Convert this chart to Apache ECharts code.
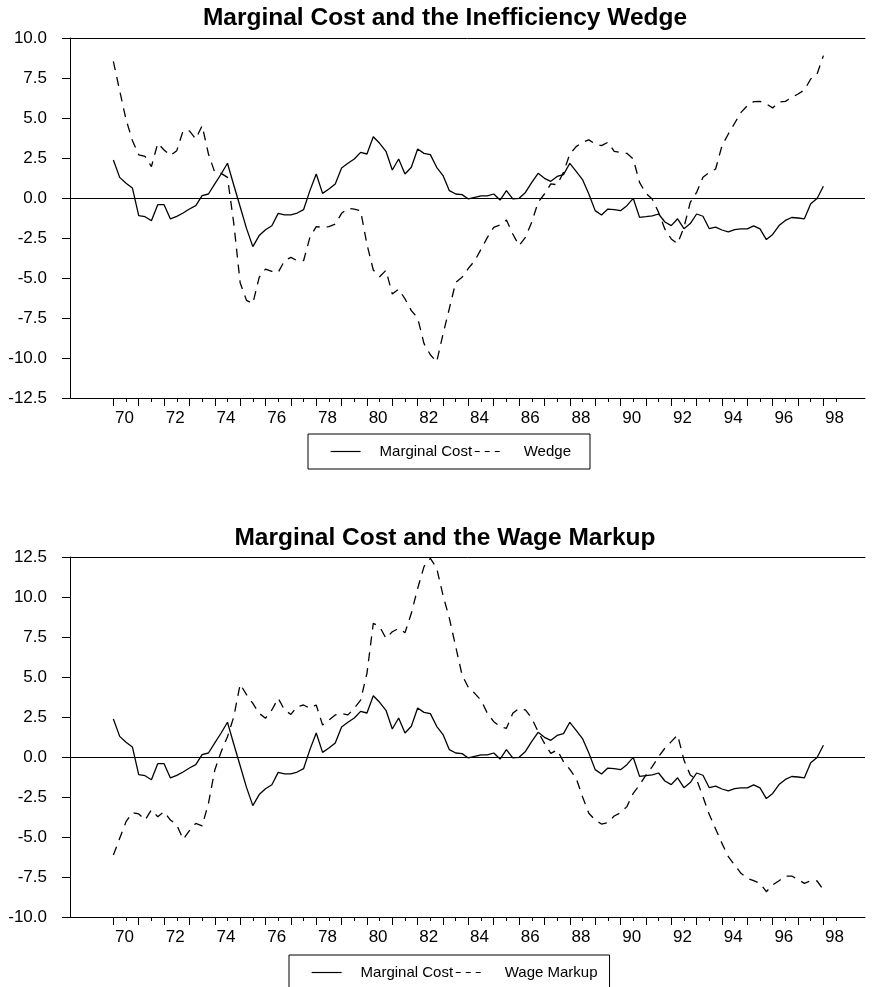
<!DOCTYPE html>
<html><head><meta charset="utf-8">
<script src="https://cdn.jsdelivr.net/npm/echarts@6/dist/echarts.min.js"></script>
<style>html,body{margin:0;padding:0;background:#fff}#c{width:875px;height:987px}</style>
</head><body><div id="c"></div>
<script>
// ---- data (quarterly, 1970Q1 .. 1998Q1) ----
const startYear = 1970;
const marginalCost = [2.38,1.29,0.92,0.63,-1.1,-1.17,-1.42,-0.42,-0.42,-1.31,-1.15,-0.94,-0.69,-0.48,0.15,0.25,0.88,1.5,2.17,0.8,-0.55,-1.9,-3.04,-2.35,-1.98,-1.73,-0.96,-1.06,-1.06,-0.94,-0.73,0.46,1.5,0.29,0.56,0.88,1.88,2.17,2.44,2.85,2.75,3.83,3.42,2.92,1.75,2.44,1.5,1.92,3.06,2.79,2.71,1.92,1.4,0.46,0.25,0.21,-0.06,0.04,0.13,0.13,0.25,-0.13,0.46,-0.06,-0.02,0.35,0.98,1.54,1.23,1.04,1.35,1.46,2.17,1.67,1.15,0.25,-0.79,-1.06,-0.69,-0.73,-0.79,-0.48,-0.02,-1.21,-1.17,-1.12,-1.0,-1.5,-1.73,-1.3,-1.92,-1.6,-1.0,-1.14,-1.92,-1.82,-2.0,-2.12,-1.98,-1.93,-1.93,-1.74,-1.93,-2.6,-2.28,-1.72,-1.4,-1.22,-1.25,-1.3,-0.36,-0.03,0.73];
const wedge = [8.54,6.7,4.9,3.6,2.7,2.6,1.96,3.42,3.0,2.65,2.96,4.2,4.2,3.69,4.52,2.75,1.6,1.54,1.29,-1.6,-5.3,-6.4,-6.6,-4.96,-4.44,-4.58,-4.65,-3.92,-3.71,-3.92,-3.92,-2.46,-1.79,-1.83,-1.79,-1.63,-0.96,-0.65,-0.69,-0.79,-2.9,-4.5,-4.92,-4.52,-6.0,-5.7,-6.3,-7.04,-7.5,-9.1,-9.8,-10.25,-8.5,-6.9,-5.27,-4.96,-4.4,-3.92,-3.2,-2.46,-1.83,-1.69,-1.38,-2.25,-2.98,-2.46,-1.5,-0.27,0.25,0.88,0.83,1.6,2.75,3.21,3.48,3.63,3.38,3.27,3.48,2.92,2.85,2.79,2.44,0.98,0.29,-0.06,-0.9,-1.95,-2.56,-2.85,-1.83,-0.27,0.35,1.29,1.6,1.81,3.27,4.0,4.67,5.35,5.77,6.02,6.04,5.88,5.63,6.0,6.04,6.29,6.5,6.75,7.44,7.75,8.9];
const wageMarkup = [-6.13,-5.08,-4.04,-3.48,-3.56,-3.94,-3.31,-3.73,-3.42,-3.94,-4.25,-5.15,-4.6,-4.15,-4.31,-2.9,-0.81,0.33,1.27,2.52,4.55,3.9,3.35,2.73,2.42,2.94,3.67,2.94,2.66,3.15,3.25,3.04,3.25,2.0,2.31,2.63,2.73,2.63,3.04,3.56,5.23,8.35,8.15,7.42,7.83,8.04,7.77,8.98,10.54,11.9,12.42,11.8,10.1,8.67,6.9,5.13,4.35,3.98,3.54,2.73,2.21,1.9,1.79,2.73,3.04,2.94,2.42,1.58,0.85,0.23,0.44,-0.29,-0.77,-1.33,-2.48,-3.52,-3.94,-4.19,-4.1,-3.69,-3.48,-3.1,-2.27,-1.75,-1.13,-0.6,0.02,0.55,0.96,1.38,-0.19,-1.13,-1.4,-2.48,-3.6,-4.5,-5.4,-6.23,-6.75,-7.27,-7.58,-7.73,-7.9,-8.42,-8.0,-7.73,-7.44,-7.44,-7.65,-7.9,-7.73,-7.75,-8.31];
const tickYears = [1970,1971,1972,1973,1974,1975,1976,1977,1978,1979,1980,1981,1982,1983,1984,1985,1986,1987,1988,1989,1990,1991,1992,1993,1994,1995,1996,1997,1998];
const halfYears = [1970.5,1971.5,1972.5,1973.5,1974.5,1975.5,1976.5,1977.5,1978.5,1979.5,1980.5,1981.5,1982.5,1983.5,1984.5,1985.5,1986.5,1987.5,1988.5,1989.5,1990.5,1991.5,1992.5,1993.5,1994.5,1995.5,1996.5,1997.5,1998.5];
const labelYears = [1970,1972,1974,1976,1978,1980,1982,1984,1986,1988,1990,1992,1994,1996,1998];
const titles = ['Marginal Cost and the Inefficiency Wedge', 'Marginal Cost and the Wage Markup'];
const names = ['Marginal Cost', 'Wedge', 'Wage Markup'];
const yRanges = [[-12.5, 10], [-10, 12.5]];

// ---- build ----
const toXY = arr => arr.map((v, i) => [startYear + i / 4, v]);
const FONT = "'Liberation Sans', Arial, Helvetica, sans-serif";
const labelShift = 0.44;
const xMin = 1968.29, xMax = 1999.64;
const grids = [
  { left: 70, top: 38, width: 795, height: 360 },
  { left: 70, top: 557, width: 795, height: 360 }
];
const xAxes = [], yAxes = [];
[0, 1].forEach(g => {
  xAxes.push({
    type: 'value', gridIndex: g, min: xMin, max: xMax, position: 'bottom',
    axisLine: { show: true, onZero: false, lineStyle: { color: '#000', width: 1 } },
    axisTick: { show: true, customValues: tickYears, length: 8, lineStyle: { color: '#000', width: 1 } },
    axisLabel: { show: true, customValues: labelYears.map(y => y + labelShift), margin: 12,
      formatter: v => String(Math.floor(v)).slice(2), color: '#000', fontSize: 17, fontFamily: FONT },
    splitLine: { show: false }
  });
  xAxes.push({
    type: 'value', gridIndex: g, min: xMin, max: xMax, position: 'bottom',
    axisLine: { show: false, onZero: false },
    axisTick: { show: true, customValues: halfYears, length: 4, lineStyle: { color: '#000', width: 1 } },
    axisLabel: { show: false }, splitLine: { show: false }
  });
  xAxes.push({
    type: 'value', gridIndex: g, min: xMin, max: xMax, position: 'top',
    axisLine: { show: true, onZero: false, lineStyle: { color: '#000', width: 1 } },
    axisTick: { show: false }, axisLabel: { show: false }, splitLine: { show: false }
  });
  yAxes.push({
    type: 'value', gridIndex: g, min: yRanges[g][0], max: yRanges[g][1], interval: 2.5,
    axisLine: { show: true, onZero: false, lineStyle: { color: '#000', width: 1 } },
    axisTick: { show: true, length: 8, lineStyle: { color: '#000', width: 1 } },
    axisLabel: { margin: 23, formatter: v => v.toFixed(1), color: '#000', fontSize: 17, fontFamily: FONT },
    splitLine: { show: false }
  });
});
const solidStyle = { color: '#000', width: 1.3, type: 'solid' };
const dashStyle = { color: '#000', width: 1.3, type: [9, 7] };
const zeroLine = { silent: true, symbol: ['none', 'none'], label: { show: false },
  lineStyle: { color: '#000', width: 1, type: 'solid' }, data: [{ yAxis: 0 }] };
const series = [
  { name: names[0], type: 'line', xAxisIndex: 0, yAxisIndex: 0, data: toXY(marginalCost), symbol: 'none', showSymbol: false, lineStyle: solidStyle, itemStyle: { color: '#000' }, markLine: zeroLine },
  { name: names[1], type: 'line', xAxisIndex: 0, yAxisIndex: 0, data: toXY(wedge), symbol: 'none', showSymbol: false, lineStyle: dashStyle, itemStyle: { color: '#000' } },
  { name: names[0], type: 'line', xAxisIndex: 3, yAxisIndex: 1, data: toXY(marginalCost), symbol: 'none', showSymbol: false, lineStyle: solidStyle, itemStyle: { color: '#000' }, markLine: zeroLine },
  { name: names[2], type: 'line', xAxisIndex: 3, yAxisIndex: 1, data: toXY(wageMarkup), symbol: 'none', showSymbol: false, lineStyle: { color: '#000', width: 1.3, type: [9, 7] }, itemStyle: { color: '#000' } }
];
const legendCommon = {
  orient: 'horizontal', borderColor: '#000', borderWidth: 1, itemWidth: 30, itemHeight: 14,
  itemGap: 2, selectedMode: false,
  itemStyle: { opacity: 0 },
  lineStyle: { type: 'inherit', width: 1.2 },
  textStyle: { color: '#000', fontSize: 15, fontFamily: FONT, padding: [0, 0, 0, 14] }
};
const legendDash = { type: [5, 5], width: 1.2, color: '#000' };
const titleStyle = { fontSize: 24.5, fontWeight: 'bold', color: '#000', fontFamily: FONT };
const option = {
  animation: false,
  backgroundColor: '#fff',
  title: [
    { text: titles[0], left: 445, textAlign: 'center', top: 6, padding: 0, textStyle: titleStyle },
    { text: titles[1], left: 445, textAlign: 'center', top: 526, padding: 0, textStyle: titleStyle }
  ],
  legend: [
    Object.assign({}, legendCommon, { data: [{ name: names[0] }, { name: names[1], lineStyle: legendDash }], left: 308, top: 434, padding: [10, 19, 10, 22] }),
    Object.assign({}, legendCommon, { data: [{ name: names[0] }, { name: names[2], lineStyle: legendDash }], left: 289, top: 955, padding: [10, 12, 12, 22] })
  ],
  grid: grids,
  xAxis: xAxes,
  yAxis: yAxes,
  series: series
};
const chart = echarts.init(document.getElementById('c'), null, { renderer: 'canvas' });
chart.setOption(option);
</script></body></html>
